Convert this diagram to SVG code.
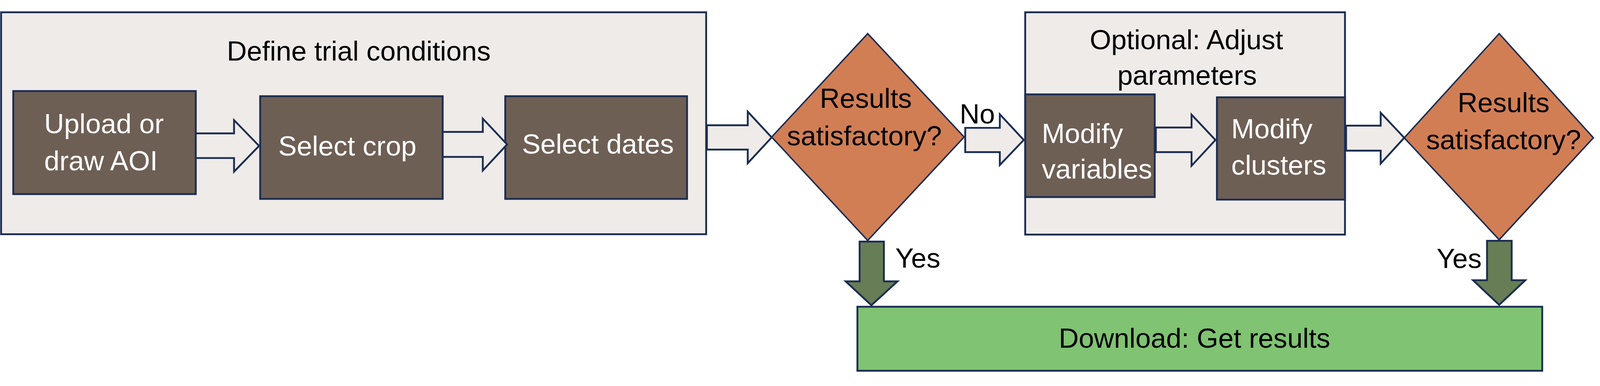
<svg xmlns="http://www.w3.org/2000/svg" width="4348" height="988" viewBox="0 0 4348 988">
<style>
svg{width:100%;height:100%}
.frame{fill:#EFEBE8;stroke:#1B2D52;stroke-width:5}
.step{fill:#6E5F55;stroke:#1B2D52;stroke-width:5}
.dec{fill:#D17E55;stroke:#1B2D52;stroke-width:4}
.flow{fill:#EFEBE8;stroke:#1B2D52;stroke-width:5;stroke-linejoin:miter}
.yes{fill:#677D55;stroke:#1B2D52;stroke-width:5}
.dl{fill:#80C372;stroke:#1B2D52;stroke-width:5}
text{font-family:"Liberation Sans",Arial,sans-serif;font-size:75px;fill:#000}
.w{fill:#FFFFFF}
.c{text-anchor:middle}
</style>
<rect width="4348" height="988" fill="#FFFFFF"/>
<g id="frame-define">
<rect class="frame" x="3" y="3" width="1916" height="603"/>
<text class="c" x="975" y="134">Define trial conditions</text>
</g>
<g id="frame-optional">
<rect class="frame" x="2786" y="3" width="869" height="604"/>
<text class="c" x="3224" y="103">Optional: Adjust</text>
<text class="c" x="3226" y="200">parameters</text>
</g>
<g id="node-upload">
<rect class="step" x="36" y="217" width="496" height="280"/>
<text class="w" x="120" y="332">Upload or</text>
<text class="w" x="120" y="432">draw AOI</text>
</g>
<g id="node-crop">
<rect class="step" x="707" y="231" width="496" height="279"/>
<text class="w c" x="944" y="392">Select crop</text>
</g>
<g id="node-dates">
<rect class="step" x="1373" y="231" width="494" height="279"/>
<text class="w c" x="1625" y="387">Select dates</text>
</g>
<g id="node-decision1">
<polygon class="dec" points="2097,342 2358,61 2620,342 2358,623"/>
<text class="c" x="2353" y="263">Results</text>
<text class="c" x="2349" y="364">satisfactory?</text>
</g>
<g id="node-variables">
<rect class="step" x="2786" y="226" width="352" height="279"/>
<text class="w" x="2831" y="358">Modify</text>
<text class="w" x="2831" y="455">variables</text>
</g>
<g id="node-clusters">
<rect class="step" x="3307" y="234" width="348" height="278"/>
<text class="w" x="3346" y="345">Modify</text>
<text class="w" x="3346" y="444">clusters</text>
</g>
<g id="node-decision2">
<polygon class="dec" points="3816,344 4074,61 4330,344 4074,621"/>
<text class="c" x="4086" y="274">Results</text>
<text class="c" x="4086" y="375">satisfactory?</text>
</g>
<g id="node-download">
<rect class="dl" x="2330" y="803" width="1861" height="174"/>
<text class="c" x="3246" y="914">Download: Get results</text>
</g>
<g id="connectors">
<polygon class="flow" points="532,332 636,332 636,296 704,366 636,436 636,399 532,399"/>
<polygon class="flow" points="1203,328 1312,328 1312,292 1378,362 1312,433 1312,396 1203,396"/>
<polygon class="flow" points="1921,310 2032,310 2032,273 2097,343 2032,413 2032,376 1921,376"/>
<polygon class="flow" points="2623,317 2717,317 2717,280 2782,350 2717,418 2717,383 2623,383"/>
<polygon class="flow" points="3141,316 3238,316 3238,281 3303,350 3238,420 3238,383 3141,383"/>
<polygon class="flow" points="3658,311 3752,311 3752,276 3816,344 3752,414 3752,379 3658,379"/>
<polygon class="yes" points="2336,626 2402,626 2402,734 2439,734 2368,799 2298,734 2336,734"/>
<polygon class="yes" points="4041,624 4108,624 4108,731 4145,731 4074,798 4003,731 4041,731"/>
<text x="2608" y="305">No</text>
<text x="2433" y="697">Yes</text>
<text x="3904" y="698">Yes</text>
</g>
</svg>
